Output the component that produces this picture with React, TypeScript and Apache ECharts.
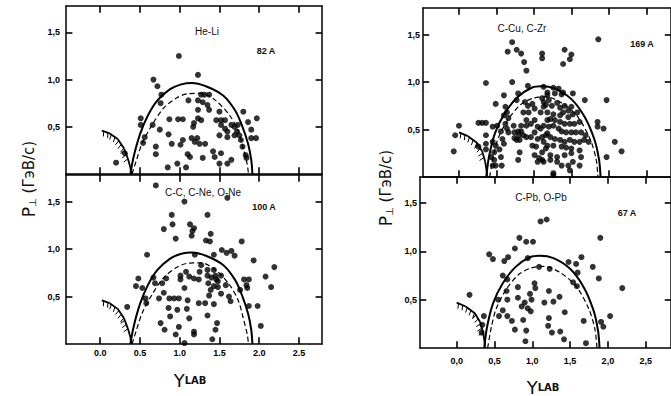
import { useEffect, useRef } from "react";
import * as echarts from "echarts";

const xTickValues = [0, 0.5, 1, 1.5, 2, 2.5];
const xTickLabelsLeft = ["0.0", "0.5", "1.0", "1.5", "2.0", "2.5"];
const xTickLabelsRight = ["0,0", "0,5", "1,0", "1,5", "2,0", "2,5"];
const yTickValues = [0.5, 1, 1.5];
const yTickLabels = ["0,5", "1,0", "1,5"];

const panelTitles = ["He-Li", "C-C, C-Ne, O-Ne", "C-Cu, C-Zr", "C-Pb, O-Pb"];
const panelCounts = ["82 A", "100 A", "169 A", "67 A"];

const heLi = [
  [0.99, 1.25], [1.23, 1.05], [0.67, 1.0], [0.72, 0.93], [0.77, 0.84], [0.76, 0.75], [0.51, 0.59], [0.51, 0.52],
  [0.66, 0.52], [0.56, 0.39], [0.54, 0.33], [0.75, 0.47], [0.7, 0.29], [0.7, 0.21], [0.85, 0.07], [0.97, 0.11],
  [1.08, 0.07], [0.86, 0.42], [0.87, 0.58], [0.98, 0.58], [1.04, 0.58], [0.9, 0.32], [1.01, 0.31], [1.04, 0.36],
  [1.1, 0.21], [1.11, 0.78], [1.23, 0.78], [1.23, 0.68], [1.23, 0.59], [1.18, 0.54], [1.17, 0.5], [1.27, 0.57],
  [1.27, 0.84], [1.31, 0.84], [1.37, 0.84], [1.29, 0.76], [1.35, 0.73], [1.37, 0.68], [1.15, 0.38], [1.19, 0.34],
  [1.25, 0.32], [1.32, 0.32], [1.22, 0.38], [1.13, 0.18], [1.29, 0.17], [1.42, 0.24], [1.44, 0.18], [1.52, 0.22],
  [1.5, 0.11], [1.6, 0.11], [1.65, 0.15], [1.46, 0.57], [1.52, 0.57], [1.57, 0.57], [1.52, 0.52], [1.5, 0.41],
  [1.6, 0.45], [1.65, 0.52], [1.69, 0.5], [1.73, 0.52], [1.6, 0.39], [1.69, 0.41], [1.75, 0.41], [1.77, 0.36],
  [1.79, 0.29], [1.8, 0.66], [1.86, 0.55], [1.9, 0.47], [1.97, 0.59], [1.9, 0.38], [1.96, 0.38], [1.83, 0.2],
  [0.2, 0.12], [0.31, 0.22], [1.5, 0.66], [1.57, 0.48], [1.72, 0.45], [1.84, 0.17],
];

const cNe = [
  [0.7, 1.67], [1.06, 1.5], [1.6, 1.54], [0.9, 1.36], [0.91, 1.26], [1.35, 1.36], [0.8, 1.21], [0.95, 1.11],
  [1.13, 1.26], [1.18, 1.22], [1.16, 1.19], [1.15, 1.14], [1.39, 1.16], [1.33, 1.09], [1.38, 1.08], [1.78, 1.08],
  [0.59, 0.94], [1.19, 0.94], [1.43, 0.94], [1.53, 0.99], [1.59, 0.96], [1.65, 0.98], [1.69, 0.93], [1.93, 0.88],
  [2.19, 0.81], [2.08, 0.71], [2.15, 0.6], [0.48, 0.69], [0.45, 0.61], [0.53, 0.59], [0.67, 0.7], [0.69, 0.64],
  [0.57, 0.48], [0.58, 0.43], [0.74, 0.48], [0.78, 0.64], [0.83, 0.69], [0.8, 0.54], [0.87, 0.48], [0.93, 0.48],
  [0.99, 0.48], [0.86, 0.38], [0.88, 0.29], [0.76, 0.22], [0.81, 0.15], [1.01, 0.72], [1.01, 0.68], [1.06, 0.59],
  [1.08, 0.76], [1.12, 0.71], [1.18, 0.69], [1.25, 0.76], [1.24, 0.68], [1.27, 0.83], [1.35, 0.78], [1.35, 0.72],
  [1.36, 0.64], [1.43, 0.78], [1.45, 0.72], [1.48, 0.66], [1.52, 0.72], [1.48, 0.6], [1.43, 0.61], [1.39, 0.57],
  [1.37, 0.51], [1.43, 0.42], [1.24, 0.43], [1.32, 0.43], [1.1, 0.46], [1.09, 0.37], [1.12, 0.27], [1.35, 0.3],
  [0.97, 0.36], [0.99, 0.18], [0.95, 0.1], [1.18, 0.13], [1.18, 0.1], [1.06, 0.01], [1.41, 0.05], [1.47, 0.22],
  [1.45, 0.15], [1.52, 0.53], [1.62, 0.5], [1.64, 0.45], [1.58, 0.62], [1.81, 0.68], [1.87, 0.68], [1.84, 0.62],
  [1.85, 0.59], [1.76, 0.57], [1.87, 0.4], [1.98, 0.4], [2.02, 0.19], [0.34, 0.39], [1.4, 0.7], [1.46, 0.68],
];

const cCu = [
  [0.71, 1.42], [0.65, 1.32], [0.77, 1.34], [0.83, 1.3], [0.87, 1.21], [0.9, 1.12], [1.11, 1.3], [1.11, 1.25],
  [1.41, 1.34], [1.5, 1.29], [1.48, 1.24], [1.39, 1.19], [1.86, 1.45], [0.36, 0.99], [0.71, 1.0], [0.92, 0.96],
  [1.68, 0.81], [1.97, 0.81], [2.08, 0.37], [2.17, 0.27], [1.97, 0.21], [1.26, 0.02], [1.85, 0.58], [1.85, 0.53],
  [1.93, 0.51],
  [0.6, 0.86], [0.79, 0.88], [0.49, 0.77], [0.62, 0.74], [0.64, 0.68], [0.77, 0.81], [0.88, 0.79], [0.92, 0.75],
  [0.98, 0.77], [1.01, 0.72], [1.09, 0.68], [1.13, 0.74], [0.86, 0.68], [0.93, 0.68], [1.18, 0.86], [1.13, 0.79],
  [0.26, 0.57], [0.31, 0.57], [0.36, 0.57], [0.0, 0.54], [-0.05, 0.44], [-0.07, 0.27], [0.36, 0.44], [0.26, 0.32],
  [0.36, 0.35], [0.36, 0.29], [0.45, 0.53], [0.51, 0.54], [0.56, 0.48], [0.6, 0.65], [0.66, 0.62], [0.73, 0.54],
  [0.74, 0.47], [0.74, 0.41], [0.77, 0.39], [0.79, 0.48], [0.83, 0.48], [0.8, 0.44], [0.86, 0.44], [0.81, 0.39],
  [0.62, 0.56], [0.64, 0.51], [0.66, 0.47], [0.58, 0.4], [0.6, 0.35], [0.45, 0.37], [0.49, 0.33], [0.47, 0.26],
  [0.54, 0.29], [0.43, 0.21], [0.47, 0.18], [0.56, 0.21], [0.57, 0.12], [0.45, 0.12], [0.49, 0.12], [0.9, 0.6],
  [0.96, 0.56], [1.01, 0.6], [1.05, 0.53], [1.09, 0.51], [1.13, 0.54], [1.18, 0.6], [0.9, 0.42], [0.96, 0.42],
  [0.9, 0.54], [0.83, 0.54], [1.01, 0.47], [1.05, 0.4], [1.11, 0.42], [1.18, 0.46], [0.81, 0.26], [0.79, 0.18],
  [1.01, 0.23], [1.07, 0.2], [1.05, 0.16], [1.11, 0.18], [1.13, 0.37], [1.16, 0.3], [0.98, 0.33], [1.03, 0.32],
  [1.13, 0.95], [1.26, 0.94], [1.33, 0.93], [1.39, 0.89], [1.18, 0.89], [1.28, 0.88], [1.37, 0.87], [1.52, 0.88],
  [1.11, 0.83], [1.2, 0.81], [1.16, 0.76], [1.24, 0.75], [1.31, 0.78], [1.35, 0.73], [1.41, 0.75], [1.46, 0.7],
  [1.5, 0.74], [1.18, 0.68], [1.26, 0.66], [1.35, 0.65], [1.39, 0.68], [1.46, 0.63], [1.52, 0.66], [1.58, 0.68],
  [1.22, 0.61], [1.28, 0.6], [1.35, 0.58], [1.41, 0.56], [1.48, 0.56], [1.54, 0.56], [1.61, 0.58], [1.2, 0.53],
  [1.26, 0.54], [1.33, 0.51], [1.37, 0.48], [1.43, 0.47], [1.5, 0.47], [1.56, 0.47], [1.63, 0.47], [1.16, 0.44],
  [1.22, 0.42], [1.28, 0.4], [1.35, 0.39], [1.41, 0.37], [1.48, 0.39], [1.54, 0.37], [1.61, 0.37], [1.67, 0.39],
  [1.18, 0.33], [1.26, 0.33], [1.37, 0.32], [1.43, 0.31], [1.5, 0.3], [1.61, 0.28], [1.11, 0.26], [1.22, 0.23],
  [1.31, 0.21], [1.41, 0.23], [1.5, 0.25], [1.63, 0.21], [1.13, 0.16], [1.22, 0.18], [1.31, 0.16], [1.37, 0.12],
  [1.46, 0.12], [1.52, 0.16], [1.61, 0.12], [1.26, 0.04], [1.48, 0.07], [1.73, 0.37], [1.69, 0.44],
];

const cPb = [
  [1.11, 1.31], [1.19, 1.33], [0.83, 1.14], [0.92, 1.1], [1.01, 1.1], [0.77, 1.03], [0.43, 0.97], [0.48, 0.92],
  [0.68, 0.94], [0.63, 0.9], [0.94, 0.93], [1.09, 0.84], [1.23, 0.82], [1.48, 0.89], [1.65, 0.94], [1.58, 0.87],
  [1.8, 0.84], [1.9, 1.14], [1.88, 0.72], [2.19, 0.62], [2.03, 0.33], [1.91, 0.27], [1.94, 0.22], [0.17, 0.55],
  [0.36, 0.33], [0.34, 0.24], [0.33, 0.16], [0.61, 0.75], [0.67, 0.71], [0.55, 0.5], [0.67, 0.5], [0.66, 0.59],
  [0.61, 0.39], [0.67, 0.33], [0.73, 0.28], [0.56, 0.33], [0.77, 0.19], [0.81, 0.63], [0.81, 0.52], [0.86, 0.43],
  [0.9, 0.47], [0.94, 0.41], [0.98, 0.38], [0.88, 0.29], [0.92, 0.18], [0.91, 0.07], [0.97, 0.56], [0.99, 0.5],
  [1.03, 0.67], [1.04, 0.62], [1.16, 0.47], [1.22, 0.59], [1.28, 0.48], [1.36, 0.53], [1.22, 0.31], [1.21, 0.23],
  [1.26, 0.16], [1.37, 0.17], [1.42, 0.09], [1.43, 0.37], [1.54, 0.68], [1.59, 0.64], [1.68, 0.28], [1.71, 0.05],
  [1.6, 0.78],
];

const solidLeft = [
  [0.38, 0], [0.42, 0.18], [0.5, 0.42], [0.6, 0.62], [0.72, 0.78], [0.88, 0.9], [1.02, 0.95], [1.15, 0.965],
  [1.33, 0.93], [1.55, 0.83], [1.7, 0.67], [1.79, 0.5], [1.86, 0.32], [1.9, 0.15], [1.915, 0],
];
const dashedLeft = [
  [0.4, 0], [0.45, 0.13], [0.53, 0.33], [0.66, 0.53], [0.8, 0.7], [0.97, 0.81], [1.1, 0.85], [1.27, 0.855],
  [1.45, 0.78], [1.63, 0.62], [1.74, 0.45], [1.8, 0.27], [1.85, 0.1], [1.865, 0],
];
const hatchLeft = [[0.02, 0.46], [0.12, 0.43], [0.22, 0.37], [0.3, 0.27], [0.35, 0.16], [0.38, 0.07], [0.39, 0]];

const solidRight = [
  [0.365, 0], [0.4, 0.21], [0.48, 0.46], [0.61, 0.67], [0.78, 0.84], [0.97, 0.94], [1.1, 0.955], [1.28, 0.93],
  [1.5, 0.82], [1.68, 0.63], [1.81, 0.39], [1.87, 0.18], [1.89, 0],
];
const dashedRight = [
  [0.41, 0], [0.46, 0.22], [0.52, 0.4], [0.65, 0.6], [0.82, 0.76], [0.99, 0.83], [1.16, 0.845], [1.37, 0.78],
  [1.58, 0.64], [1.75, 0.4], [1.83, 0.19], [1.855, 0],
];
const hatchRight = [[0.0, 0.47], [0.12, 0.43], [0.24, 0.36], [0.31, 0.27], [0.35, 0.16], [0.37, 0.06], [0.375, 0]];

const panels = [
  { left: 66, top: 6, width: 256, height: 168, xMin: -0.43, xMax: 2.79, yMax: 1.78, showX: false, xLabels: xTickLabelsLeft, labelMargin: 4, yMargin: 6, pts: heLi, solid: solidLeft, dashed: dashedLeft, hatch: hatchLeft },
  { left: 66, top: 175, width: 256, height: 169, xMin: -0.43, xMax: 2.79, yMax: 1.78, showX: true, xLabels: xTickLabelsLeft, labelMargin: 4, yMargin: 6, pts: cNe, solid: solidLeft, dashed: dashedLeft, hatch: hatchLeft },
  { left: 423, top: 8, width: 257, height: 169, xMin: -0.48, xMax: 2.83, yMax: 1.78, showX: false, xLabels: xTickLabelsRight, labelMargin: 8, yMargin: 3, pts: cCu, solid: solidRight, dashed: dashedRight, hatch: hatchRight },
  { left: 420, top: 177, width: 260, height: 171, xMin: -0.485, xMax: 2.835, yMax: 1.77, showX: true, xLabels: xTickLabelsRight, labelMargin: 8, yMargin: 3, pts: cPb, solid: solidRight, dashed: dashedRight, hatch: hatchRight },
];

const labelFont = { color: "#000", fontSize: 9, fontWeight: "bold" as const, fontFamily: "Liberation Sans" };

function pick(values: number[], labels: string[], v: number) {
  const k = values.findIndex((t) => Math.abs(t - v) < 1e-6);
  return k >= 0 ? labels[k] : "";
}

function hatchSeries(p: any, idx: number) {
  const data = p.hatch;
  return {
    type: "custom",
    xAxisIndex: idx * 2,
    yAxisIndex: idx * 2,
    data,
    silent: true,
    clip: true,
    z: 10,
    renderItem: (params: any, api: any) => {
      const k = params.dataIndex;
      if (k >= data.length - 1) return { type: "group", children: [] };
      const a = api.coord(data[k]);
      const b = api.coord(data[k + 1]);
      const dx = b[0] - a[0];
      const dy = b[1] - a[1];
      const len = Math.hypot(dx, dy) || 1;
      const ux = dx / len;
      const uy = dy / len;
      const children: any[] = [
        { type: "line", shape: { x1: a[0], y1: a[1], x2: b[0], y2: b[1] }, style: { stroke: "#000", lineWidth: 1.8 } },
      ];
      if (k < data.length - 3) {
        for (let s = 2; s < len; s += 4.5) {
          const px = a[0] + ux * s;
          const py = a[1] + uy * s;
          children.push({
            type: "line",
            shape: { x1: px, y1: py, x2: px - uy * 5 + ux * 1.5, y2: py + ux * 5 + uy * 1.5 },
            style: { stroke: "#000", lineWidth: 1 },
          });
        }
      }
      return { type: "group", children };
    },
  };
}

// Frame tick marks as markLine segments, in data coordinates of each panel
function tickMarkLines(p: any) {
  const dy = p.yMax * 0.04;
  const dx = (p.xMax - p.xMin) * 0.025;
  const segs: any[] = [];
  xTickValues.forEach((v) => {
    segs.push([{ coord: [v, 0] }, { coord: [v, dy] }]);
    segs.push([{ coord: [v, p.yMax] }, { coord: [v, p.yMax - dy] }]);
  });
  yTickValues.forEach((v) => {
    segs.push([{ coord: [p.xMin, v] }, { coord: [p.xMin + dx, v] }]);
    segs.push([{ coord: [p.xMax, v] }, { coord: [p.xMax - dx, v] }]);
  });
  return {
    silent: true,
    symbol: ["none", "none"],
    label: { show: false },
    lineStyle: { color: "#000", width: 1.6, type: "solid" },
    emphasis: { disabled: true },
    animation: false,
    data: segs,
  };
}

export default function App() {
  const ref = useRef<HTMLDivElement>(null);
  useEffect(() => {
    if (!ref.current) return;
    const chart = echarts.init(ref.current, undefined, { renderer: "svg" });
    const axisLine = { onZero: false, lineStyle: { color: "#000", width: 1.5 } };
    const xAxis: any[] = [];
    const yAxis: any[] = [];
    const series: any[] = [];
    panels.forEach((p, i) => {
      const xBase = {
        gridIndex: i, type: "value", min: p.xMin, max: p.xMax, axisLine, splitLine: { show: false },
        axisTick: { show: false },
      };
      xAxis.push({
        ...xBase, position: "bottom",
        axisLabel: { show: p.showX, customValues: xTickValues, margin: p.labelMargin, ...labelFont, formatter: (v: number) => pick(xTickValues, p.xLabels, v) },
      });
      xAxis.push({ ...xBase, position: "top", axisLabel: { show: false } });
      const yBase = {
        gridIndex: i, type: "value", min: 0, max: p.yMax, axisLine, splitLine: { show: false },
        axisTick: { show: false },
      };
      yAxis.push({
        ...yBase, position: "left",
        axisLabel: { customValues: yTickValues, margin: p.yMargin, ...labelFont, formatter: (v: number) => pick(yTickValues, yTickLabels, v) },
      });
      yAxis.push({ ...yBase, position: "right", axisLabel: { show: false } });
      series.push({
        type: "scatter", xAxisIndex: i * 2, yAxisIndex: i * 2, data: p.pts, symbolSize: 6,
        itemStyle: { color: "#000" }, silent: true,
      });
      series.push({
        type: "line", xAxisIndex: i * 2, yAxisIndex: i * 2, data: p.solid, smooth: 0.3, symbol: "none",
        lineStyle: { color: "#000", width: 2 }, silent: true,
        markLine: tickMarkLines(p),
      });
      series.push({
        type: "line", xAxisIndex: i * 2, yAxisIndex: i * 2, data: p.dashed, smooth: 0.3, symbol: "none",
        lineStyle: { color: "#000", width: 1.2, type: [5, 3] }, silent: true,
      });
      series.push(hatchSeries(p, i));
    });

    const txt = (x: number, y: number, text: string, size: number, bold = false) => ({
      type: "text", x, y, silent: true,
      style: {
        text, fill: "#111", font: `${bold ? "bold " : ""}${size}px "Liberation Sans", Arial, sans-serif`,
        textAlign: "center", textVerticalAlign: "middle", align: "center", verticalAlign: "middle",
      },
    });
    const titleY = (x: number, y: number) => ({
      type: "text", x, y, rotation: Math.PI / 2, silent: true,
      style: {
        text: `{p|P}{s|⊥}{t| (ГэВ/c)}`,
        textAlign: "center", textVerticalAlign: "middle", align: "center", verticalAlign: "middle",
        rich: {
          p: { fontSize: 17, fontFamily: "DejaVu Sans", fill: "#111", color: "#111" },
          s: { fontSize: 10, fontFamily: "DejaVu Sans", fill: "#111", color: "#111", verticalAlign: "bottom" },
          t: { fontSize: 15, fontFamily: "DejaVu Sans", fill: "#111", color: "#111" },
        },
      },
    });
    const titleX = (x: number, y: number) => ({
      type: "text", x, y, silent: true,
      style: {
        text: `{a|Y}{b|LAB}`,
        textAlign: "center", textVerticalAlign: "middle", align: "center", verticalAlign: "middle",
        rich: {
          a: { fontSize: 18, fontFamily: "DejaVu Sans", fill: "#111", color: "#111" },
          b: { fontSize: 10, fontFamily: "DejaVu Sans", fontWeight: "bold", fill: "#111", color: "#111" },
        },
      },
    });

    chart.setOption({
      animation: false,
      backgroundColor: "#fff",
      grid: panels.map((p) => ({ left: p.left, top: p.top, width: p.width, height: p.height, containLabel: false })),
      xAxis,
      yAxis,
      series,
      graphic: [
        txt(207, 31, panelTitles[0], 10),
        txt(266, 51, panelCounts[0], 9, true),
        txt(203, 192, panelTitles[1], 10),
        txt(264, 207, panelCounts[1], 9, true),
        txt(522, 28, panelTitles[2], 10),
        txt(642, 44, panelCounts[2], 9, true),
        txt(541, 197, panelTitles[3], 10),
        txt(627, 213, panelCounts[3], 9, true),
        titleY(29, 179),
        titleY(386, 188),
        titleX(190, 380),
        titleX(543, 387),
      ],
    });
    return () => chart.dispose();
  }, []);
  return (
    <div
      ref={ref}
      style={{ position: "fixed", left: 0, top: 0, width: 671, height: 396, background: "#fff" }}
    />
  );
}
